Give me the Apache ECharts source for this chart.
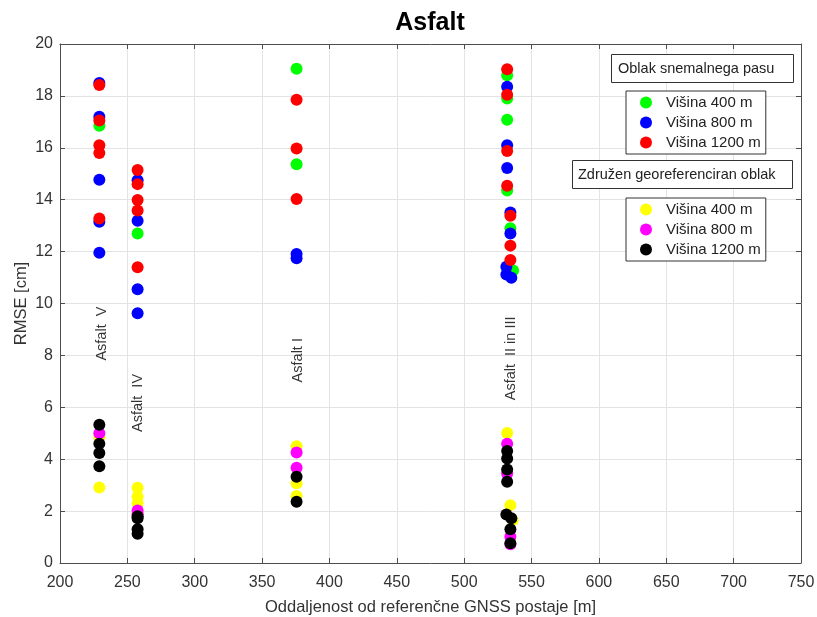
<!DOCTYPE html>
<html>
<head>
<meta charset="utf-8">
<script src="https://cdn.jsdelivr.net/npm/echarts@6/dist/echarts.min.js"></script>
<style>html,body{margin:0;padding:0;background:#fff}#c{width:817px;height:617px}</style>
</head>
<body>
<div id="c"></div>
<script>
// ---- data ----
const xTicks = [200, 750, 50];   // min, max, interval
const yTicks = [0, 20, 2];

const green400 = [[229.2,16.85],[257.6,12.7],[375.6,19.05],[375.6,15.37],[531.9,18.8],[531.9,17.9],[531.9,17.08],[531.9,14.35],[534.3,12.9],[536.3,11.27]];
const blue800 = [[229.2,18.5],[229.2,17.2],[229.2,14.77],[229.2,13.15],[229.2,11.96],[257.6,14.75],[257.6,13.19],[257.6,10.55],[257.6,9.62],[375.6,11.91],[375.6,11.74],[531.9,18.35],[531.9,16.1],[531.9,15.22],[534.3,13.51],[534.3,12.7],[531.3,11.42],[531.3,11.12],[535.0,10.99]];
const red1200 = [[229.2,18.42],[229.2,17.05],[229.2,16.1],[229.2,15.8],[229.2,13.28],[257.6,15.14],[257.6,14.6],[257.6,13.99],[257.6,13.58],[257.6,11.4],[375.6,17.85],[375.6,15.97],[375.6,14.03],[531.9,19.03],[531.9,18.04],[531.9,15.88],[531.9,14.54],[534.3,13.38],[534.3,12.23],[534.3,11.68]];

const yellow400 = [[229.2,4.85],[229.2,2.91],[257.6,2.9],[257.6,2.55],[257.6,2.3],[257.6,1.95],[375.6,4.5],[375.6,3.07],[375.6,2.58],[531.9,5.01],[534.3,2.23],[536.0,1.65]];
const magenta800 = [[229.2,5.0],[257.6,2.02],[257.6,1.88],[375.6,4.26],[375.6,3.67],[531.9,4.6],[531.9,3.45],[534.3,1.01],[534.3,0.72]];
const black1200 = [[229.2,5.33],[229.2,4.6],[229.2,4.24],[229.2,3.73],[257.6,1.8],[257.6,1.72],[257.6,1.3],[257.6,1.13],[375.6,3.32],[375.6,2.36],[531.9,4.32],[531.9,4.03],[531.9,3.6],[531.9,3.13],[531.3,1.87],[535.0,1.72],[534.3,1.3],[534.3,0.76]];

const siteLabels = [
  {name: 'Asfalt  V', value: [230.9, 7.8]},
  {name: 'Asfalt  IV', value: [257.9, 5.05]},
  {name: 'Asfalt I', value: [376.6, 6.96]},
  {name: 'Asfalt  II in III', value: [534.6, 6.27]}
];

const legendTitle1 = 'Oblak snemalnega pasu';
const legendTitle2 = 'Združen georeferenciran oblak';
const names1 = ['Višina 400 m', 'Višina 800 m', 'Višina 1200 m'];
const names2 = [' Višina 400 m', ' Višina 800 m', ' Višina 1200 m'];

// ---- chart ----
const FONT = 'Liberation Sans, Arial, sans-serif';
const AX = '#4d4d4d';
const chart = echarts.init(document.getElementById('c'), null, {renderer: 'canvas'});

function sc(name, data, color) {
  return {
    type: 'scatter', name: name, data: data, symbol: 'circle', symbolSize: 12,
    itemStyle: {color: color, opacity: 1}, emphasis: {disabled: true}, z: 3
  };
}

const legendCommon = {
  orient: 'vertical', left: 626, itemWidth: 12, itemHeight: 12, itemGap: 5,
  padding: [4, 5, 4, 14], borderColor: '#333', borderWidth: 1, backgroundColor: '#fff',
  icon: 'circle',
  formatter: n => n.trim(),
  textStyle: {fontFamily: FONT, fontSize: 15, color: '#222', lineHeight: 15, padding: [0, 0, 0, 9]}
};

const valAxisX = {
  type: 'value', min: xTicks[0], max: xTicks[1], interval: xTicks[2]
};

chart.setOption({
  animation: false,
  backgroundColor: '#fff',
  title: [
    {text: 'Asfalt', left: 430, textAlign: 'center', top: 11, padding: 0, textStyle: {fontFamily: FONT, fontSize: 25, fontWeight: 'bold', color: '#000'}},
    {text: legendTitle1, left: 611, top: 54, padding: [7, 19, 7, 7], borderColor: '#333', borderWidth: 1, backgroundColor: '#fff',
     textStyle: {fontFamily: FONT, fontSize: 14.5, fontWeight: 'normal', color: '#222'}},
    {text: legendTitle2, left: 572, top: 160, padding: [7, 17, 7, 6], borderColor: '#333', borderWidth: 1, backgroundColor: '#fff',
     textStyle: {fontFamily: FONT, fontSize: 14.5, fontWeight: 'normal', color: '#222'}}
  ],
  legend: [
    Object.assign({}, legendCommon, {top: 91, data: names1}),
    Object.assign({}, legendCommon, {top: 198, data: names2})
  ],
  grid: {left: 60, right: 16, top: 44, bottom: 54, containLabel: false, outerBoundsMode: 'none'},
  xAxis: [
    Object.assign({}, valAxisX, {
      position: 'bottom',
      name: 'Oddaljenost od referenčne GNSS postaje [m]', nameLocation: 'middle', nameGap: 36,
      nameMoveOverlap: false,
      nameTextStyle: {fontFamily: FONT, fontSize: 16.5, color: '#333'},
      axisLine: {show: true, onZero: false, lineStyle: {color: AX, width: 1}},
      axisTick: {show: true, inside: true, length: 5, lineStyle: {color: AX}},
      axisLabel: {fontFamily: FONT, fontSize: 16, color: '#333', margin: 12},
      splitLine: {show: true, lineStyle: {color: '#e3e3e3', width: 1}}
    }),
    Object.assign({}, valAxisX, {
      position: 'top',
      axisLine: {show: true, onZero: false, lineStyle: {color: AX, width: 1}},
      axisTick: {show: true, inside: true, length: 5, lineStyle: {color: AX}},
      axisLabel: {show: false}, splitLine: {show: false}
    })
  ],
  yAxis: [
    {
      type: 'value', min: yTicks[0], max: yTicks[1], interval: yTicks[2], position: 'left',
      name: 'RMSE [cm]', nameLocation: 'middle', nameGap: 30, nameRotate: 90,
      nameMoveOverlap: false,
      nameTextStyle: {fontFamily: FONT, fontSize: 16.5, color: '#333'},
      axisLine: {show: true, onZero: false, lineStyle: {color: AX, width: 1}},
      axisTick: {show: true, inside: true, length: 5, lineStyle: {color: AX}},
      axisLabel: {fontFamily: FONT, fontSize: 16, color: '#333', margin: 7},
      splitLine: {show: true, lineStyle: {color: '#e3e3e3', width: 1}}
    },
    {
      type: 'value', min: yTicks[0], max: yTicks[1], interval: yTicks[2], position: 'right',
      axisLine: {show: true, onZero: false, lineStyle: {color: AX, width: 1}},
      axisTick: {show: true, inside: true, length: 5, lineStyle: {color: AX}},
      axisLabel: {show: false}, splitLine: {show: false}
    }
  ],
  series: [
    sc(names1[0], green400, '#00ff00'),
    sc(names1[1], blue800, '#0000ff'),
    sc(names1[2], red1200, '#ff0000'),
    sc(names2[0], yellow400, '#ffff00'),
    sc(names2[1], magenta800, '#ff00ff'),
    sc(names2[2], black1200, '#000000'),
    {
      type: 'scatter', name: 'labels', data: siteLabels, symbolSize: 0, silent: true, z: 4,
      label: {show: true, position: 'inside', rotate: 90, align: 'left', verticalAlign: 'middle',
        formatter: p => p.name, fontFamily: FONT, fontSize: 14.5, color: '#000'}
    }
  ]
});
</script>
</body>
</html>
